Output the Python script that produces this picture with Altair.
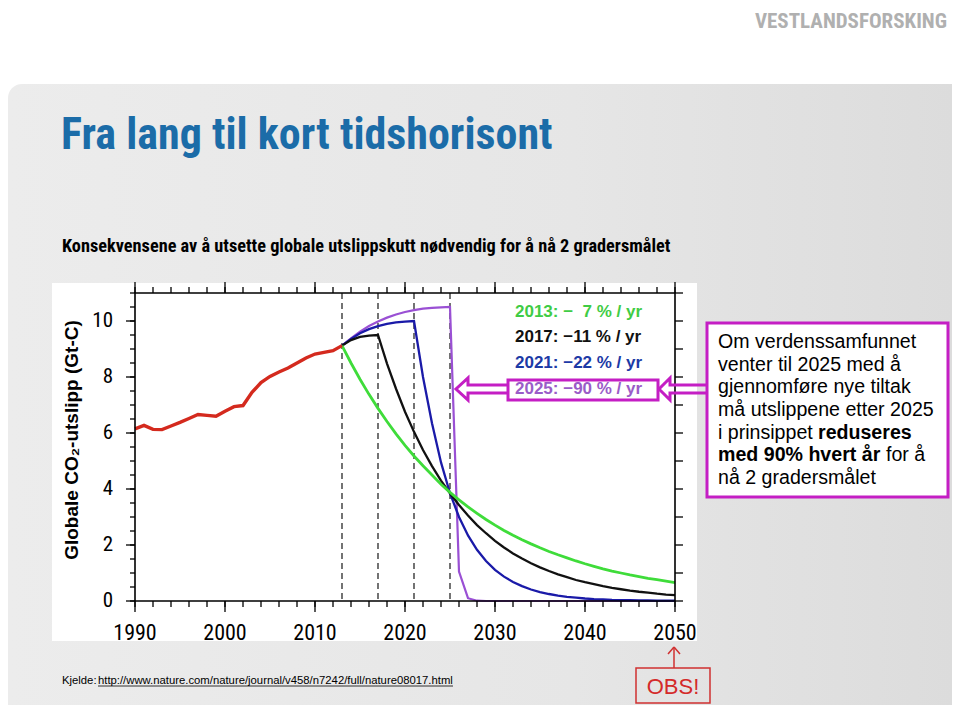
import altair as alt
import pandas as pd

# ---------------- data ----------------
hist_years = list(range(1990, 2014))
hist_values = [6.15, 6.27, 6.13, 6.12, 6.25, 6.38, 6.52, 6.66, 6.63, 6.60,
               6.78, 6.94, 6.98, 7.45, 7.80, 8.02, 8.18, 8.32, 8.50, 8.68,
               8.82, 8.88, 8.94, 9.12]

scen_years = list(range(2013, 2051))
green_values = [9.12, 8.50, 7.92, 7.38, 6.88, 6.41, 5.97, 5.56, 5.18, 4.83, 4.50, 4.17, 3.88,
                3.61, 3.36, 3.13, 2.91, 2.71, 2.52, 2.35, 2.19, 2.04, 1.90, 1.77, 1.65,
                1.54, 1.43, 1.33, 1.24, 1.15, 1.07, 1.00, 0.93, 0.87, 0.81, 0.76, 0.71, 0.66]
black_values = [9.12, 9.32, 9.43, 9.48, 9.50, 8.48, 7.58, 6.76, 6.04, 5.39, 4.82, 4.30, 3.85,
                3.43, 3.05, 2.71, 2.42, 2.15, 1.91, 1.70, 1.52, 1.35, 1.20, 1.07, 0.95,
                0.85, 0.75, 0.67, 0.60, 0.53, 0.47, 0.42, 0.37, 0.33, 0.30, 0.26, 0.23, 0.21]
blue_values = [9.12, 9.36, 9.56, 9.71, 9.82, 9.90, 9.95, 9.98, 10.00, 8.00, 6.35, 4.95, 3.85,
               3.00, 2.34, 1.83, 1.43, 1.11, 0.87, 0.68, 0.53, 0.41, 0.32, 0.25, 0.19,
               0.15, 0.12, 0.09, 0.07, 0.06, 0.04, 0.03, 0.03, 0.02, 0.02, 0.01, 0.01, 0.01]
purple_values = [9.12, 9.38, 9.62, 9.82, 9.98, 10.12, 10.23, 10.32, 10.39, 10.44, 10.47, 10.49, 10.50,
                 1.05, 0.10, 0.01, 0, 0, 0, 0, 0, 0, 0, 0, 0,
                 0, 0, 0, 0, 0, 0, 0, 0, 0, 0, 0, 0, 0]

start_years = [2013, 2017, 2021, 2025]
series_labels = ["2013: \u2212\u00a0\u00a07 % / yr", "2017: \u221211 % / yr",
                 "2021: \u221222 % / yr", "2025: \u221290 % / yr"]
x_tick_labels = [1990, 2000, 2010, 2020, 2030, 2040, 2050]
y_tick_labels = [0, 2, 4, 6, 8, 10]
x_minor_ticks = list(range(1990, 2051, 2))
y_minor_ticks = [0, 0.5, 1, 1.5, 2, 2.5, 3, 3.5, 4, 4.5, 5, 5.5, 6, 6.5, 7, 7.5, 8, 8.5,
                 9, 9.5, 10, 10.5, 11]
y_right_ticks = list(range(0, 12))

title_text = "Fra lang til kort tidshorisont"
subtitle_text = "Konsekvensene av å utsette globale utslippskutt nødvendig for å nå 2 gradersmålet"
y_title_text = "Globale CO\u2082-utslipp (Gt-C)"
box_lines = ["Om verdenssamfunnet", "venter til 2025 med å", "gjennomføre nye tiltak",
             "må utslippene etter 2025", "i prinsippet ", "", "nå 2 gradersmålet"]
box_bold_1 = "reduseres"
box_bold_2 = "med 90% hvert år"
box_tail_2 = "for å"
source_label = "Kjelde:"
source_url = "http://www.nature.com/nature/journal/v458/n7242/full/nature08017.html"
logo_text = "VESTLANDSFORSKING"
obs_text = "OBS!"

# ---------------- geometry helpers ----------------
X0, Y0, W, H = 135, 293, 540, 308


def px(x):
    return x - X0


def py(y):
    return y - Y0


def yr(x):
    return 1990 + (x - X0) * 60 / W


def vl(y):
    return (Y0 + H - y) * 11 / H


xs = alt.Scale(domain=[1990, 2050], nice=False, zero=False)
ys = alt.Scale(domain=[0, 11], nice=False, zero=False)


def XE():
    return alt.X("year:Q", scale=xs, axis=None)


def YE():
    return alt.Y("value:Q", scale=ys, axis=None)


one = pd.DataFrame({"k": [0]})
SANS = "Liberation Sans, Arial, sans-serif"
NARROW = ("Noto Sans Condensed, Roboto Condensed, Open Sans Condensed, "
          "Liberation Sans Narrow, Arial Narrow, Roboto, sans-serif")
MAGENTA = "#c41ec4"


def rect(x1, x2, y1, y2, **mk):
    return alt.Chart(one).mark_rect(**mk).encode(
        x=alt.value(px(x1)), x2=alt.value(px(x2)), y=alt.value(py(y1)), y2=alt.value(py(y2)))


def rule(x1, y1, x2, y2, **mk):
    return alt.Chart(one).mark_rule(**mk).encode(
        x=alt.value(px(x1)), x2=alt.value(px(x2)), y=alt.value(py(y1)), y2=alt.value(py(y2)))


def text(t, x, y, **mk):
    return alt.Chart(one).mark_text(text=t, **mk).encode(x=alt.value(px(x)), y=alt.value(py(y)))


layers = []

# slide background
bg_grad = alt.LinearGradient(gradient="linear", x1=0, x2=1, y1=0, y2=0,
                             stops=[alt.GradientStop(color="#ececec", offset=0),
                                    alt.GradientStop(color="#e6e6e6", offset=0.6),
                                    alt.GradientStop(color="#dcdcdc", offset=1)])
layers.append(rect(8, 952, 84, 705, fill=bg_grad, cornerRadiusTopLeft=14))
# white chart image
layers.append(rect(52, 697, 283, 641, fill="white"))

# dashed start lines
layers.append(alt.Chart(pd.DataFrame({"year": start_years})).mark_rule(
    color="black", strokeWidth=1.1, strokeDash=[6, 4]).encode(
    x=XE(), y=alt.value(0), y2=alt.value(H)))


def series(years, values, color, width):
    df = pd.DataFrame({"year": years, "value": values})
    return alt.Chart(df).mark_line(color=color, strokeWidth=width).encode(x=XE(), y=YE())


layers.append(series(scen_years, purple_values, "#9a50d4", 2.2))
layers.append(series(scen_years, blue_values, "#1a1aa8", 2.3))
layers.append(series(scen_years, black_values, "#111111", 2.3))
layers.append(series(scen_years, green_values, "#3fdc3a", 2.8))
layers.append(series(hist_years, hist_values, "#d42a1e", 3.4))

# frame
layers.append(rect(X0, X0 + W, Y0, Y0 + H, fillOpacity=0, stroke="black", strokeWidth=1.6))


def xticks(vals, y1, y2):
    return alt.Chart(pd.DataFrame({"year": vals})).mark_rule(color="black", strokeWidth=1.3).encode(
        x=XE(), y=alt.value(py(y1)), y2=alt.value(py(y2)))


def yticks(vals, x1, x2):
    return alt.Chart(pd.DataFrame({"value": vals})).mark_rule(color="black", strokeWidth=1.3).encode(
        y=YE(), x=alt.value(px(x1)), x2=alt.value(px(x2)))


layers += [xticks(x_minor_ticks, Y0 + H, Y0 + H + 6), xticks(x_tick_labels, Y0 + H, Y0 + H + 11),
           xticks(x_minor_ticks, Y0, Y0 - 6), xticks(x_tick_labels, Y0, Y0 - 11),
           yticks(y_minor_ticks, X0 - 5, X0), yticks(y_tick_labels, X0 - 9, X0),
           yticks(y_right_ticks, X0 + W, X0 + W + 8)]

# tick labels (through the scales)
xl_df = pd.DataFrame({"year": x_tick_labels, "label": [str(v) for v in x_tick_labels]})
layers.append(alt.Chart(xl_df).mark_text(
    align="center", baseline="top", font=NARROW, fontSize=22, color="black").encode(
    x=XE(), y=alt.value(py(623)), text="label:N"))
yl_df = pd.DataFrame({"value": y_tick_labels, "label": [str(v) for v in y_tick_labels]})
layers.append(alt.Chart(yl_df).mark_text(
    align="right", baseline="middle", font=NARROW, fontSize=21, color="black").encode(
    y=YE(), x=alt.value(px(113)), text="label:N"))

# in-plot legend texts
legend_colors = ["#3fcc45", "#111111", "#1c3aa6", "#9a5cc8"]
legend_baselines = [317, 342, 368, 394]
for lab, col, b in zip(series_labels, legend_colors, legend_baselines):
    layers.append(text(lab, 515, b, align="left", baseline="alphabetic", font=SANS,
                       fontSize=17, fontWeight="bold", color=col))
layers.append(rect(508, 658, 380, 400, fillOpacity=0, stroke=MAGENTA, strokeWidth=3))


# hollow arrows (drawn through the data scales)
def arrow(tip, back, end, top, bot, htop, hbot, mid):
    pts = [(end, top), (back, top), (back, htop), (tip, mid), (back, hbot), (back, bot), (end, bot)]
    return [(yr(a), vl(b)) for a, b in pts]


arrow_rows = []
for aid, (tip, back, end) in enumerate([(456, 468, 508), (659, 670, 708)]):
    for i, (a, b) in enumerate(arrow(tip, back, end, 385, 393, 378, 400, 389)):
        arrow_rows.append({"id": aid, "o": i, "year": a, "value": b})
layers.append(alt.Chart(pd.DataFrame(arrow_rows)).mark_line(
    color=MAGENTA, strokeWidth=3, strokeJoin="miter").encode(
    x=XE(), y=YE(), detail="id:N", order="o:Q"))

# right text box
layers.append(rect(707, 948, 323, 497, fill="white", stroke=MAGENTA, strokeWidth=3))
base_lines = [348 + i * 22.67 for i in range(7)]
for t, b in zip(box_lines, base_lines):
    if t:
        layers.append(text(t, 718, b, align="left", baseline="alphabetic", font=SANS,
                           fontSize=19.6, color="black"))
layers.append(text(box_bold_1, 818, base_lines[4], align="left", baseline="alphabetic", font=SANS,
                   fontSize=19.6, fontWeight="bold", color="black"))
layers.append(text(box_bold_2, 718, base_lines[5], align="left", baseline="alphabetic", font=SANS,
                   fontSize=19.6, fontWeight="bold", color="black"))
layers.append(text(box_tail_2, 886, base_lines[5], align="left", baseline="alphabetic", font=SANS,
                   fontSize=19.6, color="black"))

# y title
layers.append(text(y_title_text, 72, 440, angle=270, align="center", baseline="middle", font=SANS,
                   fontSize=19, fontWeight="bold", color="black"))

# slide texts
layers.append(text(title_text, 61, 149, align="left", baseline="alphabetic", font=NARROW,
                   fontSize=44, fontWeight="bold", color="#1b6ca8"))
layers.append(text(subtitle_text, 62, 252, align="left", baseline="alphabetic", font=NARROW,
                   fontSize=18.3, fontWeight="bold", color="black"))
layers.append(text(logo_text, 947, 28, align="right", baseline="alphabetic", font=NARROW,
                   fontSize=21, fontWeight="bold", color="#b0b0b0"))
layers.append(text(source_label, 62, 684, align="left", baseline="alphabetic", font=SANS,
                   fontSize=11.3, color="black"))
layers.append(text(source_url, 98, 684, align="left", baseline="alphabetic", font=SANS,
                   fontSize=11.3, color="black"))
layers.append(rule(98, 686, 453, 686, color="black", strokeWidth=0.8))

# OBS! box with arrow
layers.append(rect(636, 710, 668, 703, fillOpacity=0, stroke="#d03030", strokeWidth=1.5))
layers.append(rule(674, 668, 674, 647, color="#d03030", strokeWidth=1.5))
layers.append(rule(668, 654, 674, 647, color="#d03030", strokeWidth=1.5))
layers.append(rule(680, 654, 674, 647, color="#d03030", strokeWidth=1.5))
layers.append(text(obs_text, 673, 694, align="center", baseline="alphabetic", font=SANS,
                   fontSize=22, color="#d42a2a"))

chart = alt.layer(*layers).properties(
    width=W, height=H,
    padding={"left": 127, "top": 285, "right": 277, "bottom": 104},
    autosize=alt.AutoSizeParams(type="none"),
    background="white",
).configure_view(strokeWidth=0)

chart.save("out.html", embed_options={"renderer": "svg", "actions": False})
